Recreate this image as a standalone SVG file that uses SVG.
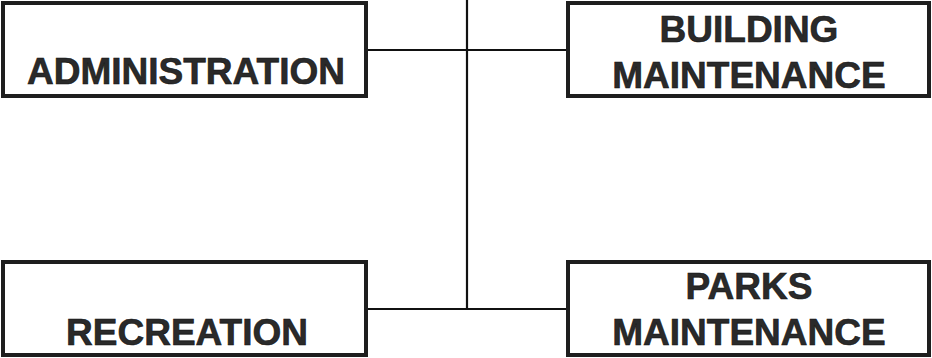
<svg xmlns="http://www.w3.org/2000/svg" width="932" height="358" viewBox="0 0 932 358">
<style>
.box{fill:#fff;stroke:#1e1e1e;stroke-width:4}
.lbl{font-family:"Liberation Sans",Arial,sans-serif;font-weight:bold;font-size:37px;fill:#2a2a2a;stroke:#111;stroke-width:0.6;text-anchor:middle}
.conn{stroke:#111;stroke-width:2.2;fill:none}
</style>
<rect width="932" height="358" fill="#fff"/>
<g id="connectors">
<line class="conn" x1="467" y1="0" x2="467" y2="309"/>
<line class="conn" x1="366" y1="50" x2="568" y2="50"/>
<line class="conn" x1="366" y1="309" x2="568" y2="309"/>
</g>
<g id="administration">
<rect class="box" x="3" y="3" width="363" height="93"/>
<text class="lbl" x="186" y="84">ADMINISTRATION</text>
</g>
<g id="building-maintenance">
<rect class="box" x="568" y="3" width="361" height="93"/>
<text class="lbl" x="749" y="42">BUILDING</text>
<text class="lbl" x="749" y="88">MAINTENANCE</text>
</g>
<g id="recreation">
<rect class="box" x="3" y="262" width="363" height="93"/>
<text class="lbl" x="187" y="345">RECREATION</text>
</g>
<g id="parks-maintenance">
<rect class="box" x="568" y="262" width="361" height="93"/>
<text class="lbl" x="749" y="299">PARKS</text>
<text class="lbl" x="749" y="345">MAINTENANCE</text>
</g>
</svg>
